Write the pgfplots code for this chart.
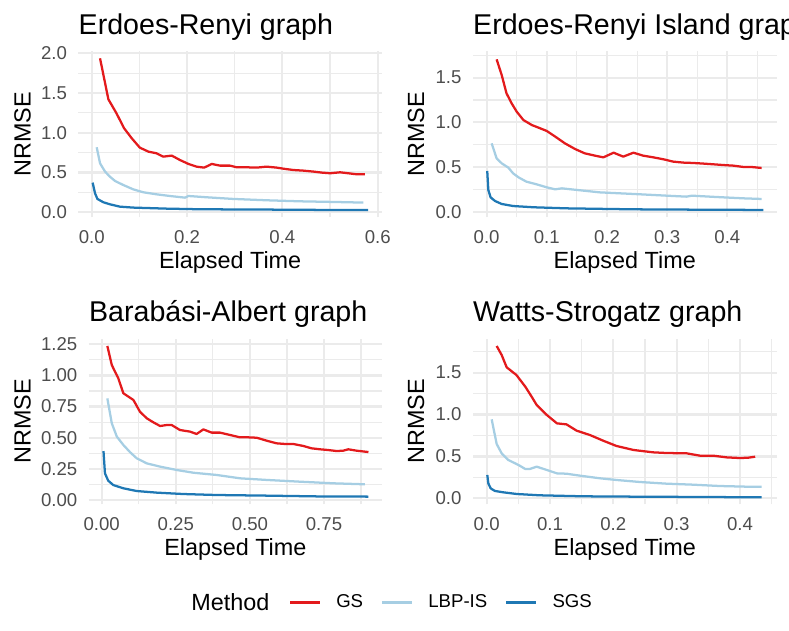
\documentclass[border=0pt]{standalone}
\usepackage{pgfplots}
\pgfplotsset{compat=1.18}
\usepackage{fontspec}
\setmainfont{Liberation Sans}
\definecolor{gsred}{HTML}{E31A1C}
\definecolor{lbpblue}{HTML}{A6CEE3}
\definecolor{sgsblue}{HTML}{1F78B4}
\definecolor{gridc}{HTML}{EBEBEB}
\definecolor{tickc}{HTML}{4D4D4D}
\pgfplotsset{
  panel/.style={
    scale only axis,
    height=82.9pt,
    anchor=south west,
    axis line style={draw=none},
    tick style={draw=none},
    major tick length=0pt, minor tick length=0pt,
    grid=both,
    major grid style={line width=1.13pt, color=gridc},
    minor grid style={line width=0.57pt, color=gridc},
    tick label style={font=\fontsize{9.3}{11}\selectfont, color=tickc, inner sep=0pt},
    yticklabel style={anchor=east, xshift=-5.5pt},
    xticklabel style={anchor=base, yshift=-13.2pt},
    xlabel={Elapsed Time}, ylabel={NRMSE},
    label style={font=\fontsize{11.7}{14}\selectfont, inner sep=0pt},
    xlabel style={at={(rel axis cs:0.5,0)}, anchor=base, yshift=-25.75pt},
    title style={at={(rel axis cs:0,1)}, anchor=base west, yshift=2.5pt, inner sep=0pt, font=\fontsize{14.3}{17}\selectfont},
    every axis plot/.append style={line width=1.13pt, line join=round, no markers},
  },
}
\begin{document}
\begin{tikzpicture}
\useasboundingbox (0,0) rectangle (394.5pt,315.5pt);
\clip (0,0) rectangle (394.5pt,315.5pt);

% Panel 1
\begin{axis}[panel, at={(39.15pt,206.85pt)}, width=151.85pt,
  xmin=-0.0281, xmax=0.609, ymin=-0.0629, ymax=2.0226,
  xtick={0,0.2,0.4,0.6}, xticklabels={0.0,0.2,0.4,0.6},
  minor xtick={0.1,0.3,0.5},
  ytick={0,0.5,1,1.5,2}, yticklabels={0.0,0.5,1.0,1.5,2.0},
  minor ytick={0.25,0.75,1.25,1.75},
  ylabel style={at={(rel axis cs:-0.1837,0.5)}, anchor=center},
  title={Erdoes-Renyi graph}]
\addplot[gsred] coordinates {(0.0175,1.937)(0.035,1.421)(0.052,1.245)(0.068,1.057)(0.084,0.931)(0.101,0.813)(0.119,0.763)(0.136,0.742)(0.150,0.700)(0.168,0.713)(0.185,0.658)(0.203,0.608)(0.220,0.574)(0.236,0.562)(0.252,0.608)(0.269,0.587)(0.290,0.587)(0.304,0.566)(0.325,0.566)(0.346,0.562)(0.367,0.574)(0.388,0.562)(0.406,0.545)(0.423,0.532)(0.444,0.524)(0.465,0.512)(0.483,0.499)(0.500,0.491)(0.521,0.503)(0.538,0.491)(0.556,0.478)(0.573,0.478)};
\addplot[lbpblue] coordinates {(0.0105,0.818)(0.0175,0.616)(0.028,0.512)(0.038,0.449)(0.049,0.394)(0.066,0.344)(0.087,0.289)(0.108,0.252)(0.136,0.226)(0.164,0.205)(0.196,0.184)(0.203,0.205)(0.241,0.189)(0.297,0.168)(0.367,0.151)(0.437,0.138)(0.507,0.130)(0.570,0.122)};
\addplot[sgsblue] coordinates {(0.002,0.373)(0.007,0.239)(0.012,0.168)(0.0245,0.126)(0.038,0.101)(0.059,0.071)(0.087,0.059)(0.157,0.046)(0.227,0.038)(0.367,0.034)(0.507,0.029)(0.580,0.029)};
\end{axis}

% Panel 2
\begin{axis}[panel, at={(236.4pt,206.85pt)}, width=151.95pt,
  xmin=-0.023, xmax=0.482, ymin=-0.0631, ymax=1.793,
  xtick={0,0.1,0.2,0.3,0.4}, xticklabels={0.0,0.1,0.2,0.3,0.4},
  minor xtick={0.05,0.15,0.25,0.35,0.45},
  ytick={0,0.5,1,1.5}, yticklabels={0.0,0.5,1.0,1.5},
  minor ytick={0.25,0.75,1.25,1.75},
  ylabel style={at={(rel axis cs:-0.1869,0.5)}, anchor=center},
  title={Erdoes-Renyi Island graph}]
\addplot[gsred] coordinates {(0.0166,1.705)(0.025,1.530)(0.033,1.325)(0.0415,1.213)(0.050,1.119)(0.061,1.026)(0.075,0.970)(0.089,0.933)(0.100,0.903)(0.114,0.840)(0.130,0.765)(0.147,0.701)(0.163,0.653)(0.180,0.627)(0.194,0.608)(0.211,0.660)(0.227,0.616)(0.244,0.660)(0.260,0.627)(0.277,0.608)(0.294,0.586)(0.310,0.560)(0.327,0.549)(0.343,0.545)(0.360,0.538)(0.377,0.530)(0.393,0.522)(0.410,0.515)(0.427,0.500)(0.440,0.500)(0.457,0.489)};
\addplot[lbpblue] coordinates {(0.0083,0.765)(0.0166,0.597)(0.025,0.541)(0.036,0.493)(0.044,0.429)(0.053,0.384)(0.066,0.336)(0.083,0.306)(0.100,0.272)(0.114,0.250)(0.125,0.261)(0.150,0.243)(0.188,0.216)(0.244,0.198)(0.299,0.179)(0.332,0.168)(0.341,0.179)(0.382,0.164)(0.427,0.149)(0.457,0.142)};
\addplot[sgsblue] coordinates {(0.001,0.455)(0.0028,0.243)(0.0066,0.160)(0.014,0.119)(0.025,0.086)(0.044,0.063)(0.078,0.049)(0.133,0.037)(0.244,0.026)(0.355,0.022)(0.460,0.019)};
\end{axis}

% Panel 3
\begin{axis}[panel, at={(44.35pt,63.3pt)}, width=146.65pt,
  xmin=-0.0439, xmax=0.9457, ymin=-0.0353, ymax=1.296,
  xtick={0,0.25,0.5,0.75}, xticklabels={0.00,0.25,0.50,0.75},
  minor xtick={0.125,0.375,0.625,0.875},
  ytick={0,0.25,0.5,0.75,1,1.25}, yticklabels={0.00,0.25,0.50,0.75,1.00,1.25},
  minor ytick={0.125,0.375,0.625,0.875,1.125},
  ylabel style={at={(rel axis cs:-0.2257,0.5)}, anchor=center},
  title={Barabási-Albert graph},
  legend columns=3,
  legend style={at={(axis description cs:0.6829,-0.5917)}, anchor=west, draw=none, fill=none,
    inner sep=0pt, outer sep=0pt, font=\fontsize{9.3}{11}\selectfont, nodes={inner sep=0pt},
    /tikz/every odd column/.append style={column sep=7.5pt},
    /tikz/every even column/.append style={column sep=9pt}},
  legend image code/.code={\draw[#1] (0pt,0pt) -- (15pt,0pt);}]
\addplot[gsred] coordinates {(0.019,1.237)(0.034,1.084)(0.045,1.030)(0.056,0.977)(0.073,0.857)(0.090,0.830)(0.107,0.803)(0.129,0.709)(0.152,0.656)(0.174,0.624)(0.197,0.594)(0.219,0.602)(0.236,0.602)(0.264,0.562)(0.298,0.549)(0.320,0.530)(0.332,0.549)(0.343,0.567)(0.371,0.541)(0.399,0.541)(0.433,0.522)(0.467,0.503)(0.495,0.503)(0.523,0.500)(0.557,0.476)(0.590,0.455)(0.618,0.450)(0.646,0.450)(0.680,0.434)(0.708,0.415)(0.737,0.407)(0.765,0.401)(0.793,0.393)(0.815,0.396)(0.832,0.407)(0.860,0.396)(0.900,0.385)};
\addlegendentry{GS}
\addplot[lbpblue] coordinates {(0.019,0.816)(0.034,0.616)(0.051,0.509)(0.073,0.442)(0.096,0.383)(0.118,0.335)(0.152,0.294)(0.197,0.268)(0.253,0.241)(0.309,0.219)(0.388,0.201)(0.467,0.174)(0.557,0.161)(0.669,0.147)(0.782,0.134)(0.888,0.126)};
\addlegendentry{LBP-IS\hspace{5.5pt}}
\addplot[sgsblue] coordinates {(0.006,0.393)(0.011,0.214)(0.022,0.155)(0.039,0.120)(0.073,0.094)(0.118,0.072)(0.186,0.059)(0.275,0.048)(0.388,0.040)(0.557,0.035)(0.725,0.029)(0.900,0.027)};
\addlegendentry{SGS}
\end{axis}

% Panel 4
\begin{axis}[panel, at={(236.4pt,63.3pt)}, width=151.95pt,
  xmin=-0.0219, xmax=0.458, ymin=-0.0724, ymax=1.907,
  xtick={0,0.1,0.2,0.3,0.4}, xticklabels={0.0,0.1,0.2,0.3,0.4},
  minor xtick={0.05,0.15,0.25,0.35,0.45},
  ytick={0,0.5,1,1.5}, yticklabels={0.0,0.5,1.0,1.5},
  minor ytick={0.25,0.75,1.25,1.75},
  ylabel style={at={(rel axis cs:-0.1869,0.5)}, anchor=center},
  title={Watts-Strogatz graph}]
\addplot[gsred] coordinates {(0.0158,1.819)(0.0237,1.711)(0.0316,1.564)(0.039,1.520)(0.047,1.472)(0.061,1.333)(0.071,1.214)(0.079,1.114)(0.095,0.995)(0.111,0.895)(0.126,0.883)(0.142,0.808)(0.163,0.756)(0.184,0.688)(0.205,0.625)(0.232,0.577)(0.263,0.549)(0.284,0.541)(0.316,0.537)(0.337,0.509)(0.358,0.509)(0.379,0.489)(0.400,0.481)(0.413,0.485)(0.424,0.497)};
\addplot[lbpblue] coordinates {(0.0079,0.943)(0.0158,0.649)(0.0237,0.537)(0.034,0.458)(0.045,0.418)(0.053,0.386)(0.061,0.350)(0.068,0.350)(0.079,0.378)(0.092,0.346)(0.111,0.298)(0.126,0.294)(0.147,0.271)(0.179,0.239)(0.205,0.219)(0.242,0.195)(0.284,0.175)(0.326,0.163)(0.368,0.147)(0.411,0.139)(0.434,0.139)};
\addplot[sgsblue] coordinates {(0.001,0.279)(0.0026,0.179)(0.0063,0.119)(0.013,0.088)(0.026,0.072)(0.047,0.052)(0.084,0.036)(0.153,0.024)(0.232,0.020)(0.337,0.016)(0.434,0.012)};
\end{axis}

\node[anchor=base west, inner sep=0pt, font=\fontsize{11.7}{14}\selectfont] at (95.5pt,10pt) {Method};
\end{tikzpicture}
\end{document}
